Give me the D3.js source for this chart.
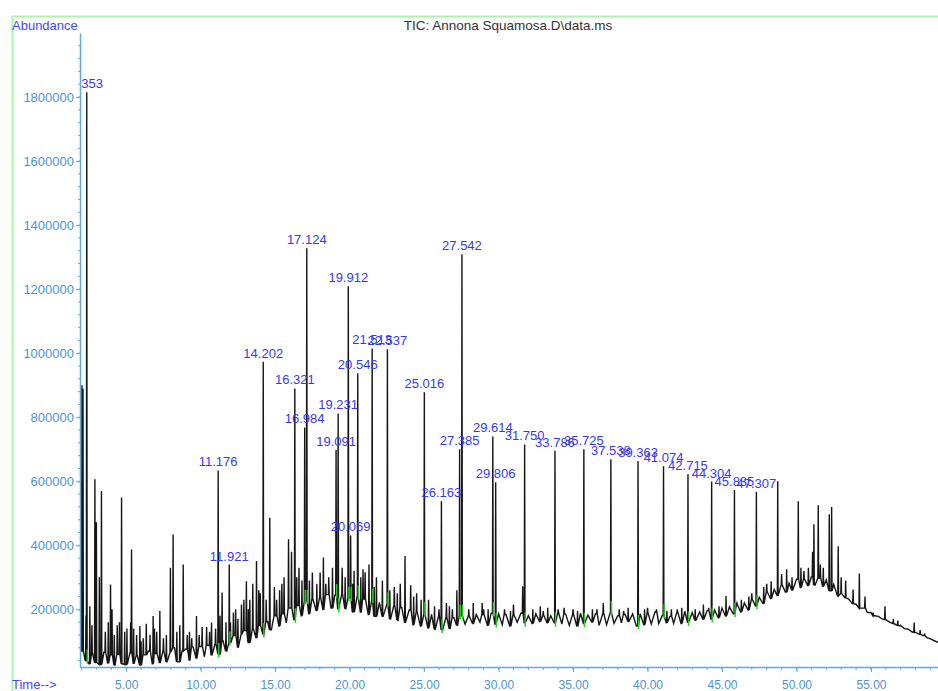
<!DOCTYPE html>
<meta charset="utf-8">
<style>
body { margin: 0; background: #fff; }
svg { display: block; font-family: "Liberation Sans", Arial, sans-serif; }
.axis path, .axis line { stroke: #62a9de; }
.axis text { fill: #4d94d4; }
.peak-label { fill: #3838f4; font-size: 13px; text-anchor: middle; }
.trace { fill: none; stroke: #161616; stroke-width: 1.4px; stroke-linejoin: miter; }
.marker { stroke: #22cc22; stroke-width: 1.5px; }
</style>
<body>
<script src="https://d3js.org/d3.v7.min.js"></script>
<script>

const width = 938;
const height = 691;

// labelled peaks (retention time, abundance, label)
const peakTimes = [2.353, 11.176, 11.921, 14.202, 16.321, 16.984, 17.124, 19.091, 19.231, 19.912,
  20.069, 20.546, 21.513, 22.537, 25.016, 26.163, 27.385, 27.542, 29.614, 29.806, 31.750,
  33.786, 35.725, 37.538, 39.363, 41.074, 42.715, 44.304, 45.835, 47.307];
const peakHeights = [1815000, 634000, 340000, 973000, 890000, 768000, 1328000, 698000, 812000, 1209000,
  431000, 937000, 1015000, 1012000, 878000, 538000, 700000, 1309000, 740000, 597000, 715000,
  695000, 700000, 669000, 663000, 647000, 622000, 599000, 573000, 567000];
const peakLabels = ["2.353", "11.176", "11.921", "14.202", "16.321", "16.984", "17.124", "19.091", "19.231", "19.912",
  "20.069", "20.546", "21.513", "22.537", "25.016", "26.163", "27.385", "27.542", "29.614", "29.806", "31.750",
  "33.786", "35.725", "37.538", "39.363", "41.074", "42.715", "44.304", "45.835", "47.307"];

// unlabelled peaks
const minorTimes = [1.96, 2.03, 2.10, 2.56, 2.90, 3.00, 3.20, 3.34, 3.95, 4.05, 4.40, 4.55, 4.69, 5.05, 5.30, 5.36,
  5.70, 5.92, 6.15, 6.35, 6.60, 6.81, 7.05, 7.26, 7.50, 7.97, 8.15, 8.40, 8.83, 9.10, 9.40, 9.72,
  10.10, 10.40, 10.73, 11.44, 11.70, 12.20, 12.50, 12.74, 13.07, 13.30, 13.50, 13.75, 14.00, 14.64,
  14.95, 15.30, 15.60, 15.90, 16.10, 16.60, 17.50, 17.80, 18.02, 18.24, 18.60, 18.85, 19.50, 20.30,
  20.90, 21.04, 21.30, 21.80, 22.20, 23.00, 23.40, 23.72, 24.10, 24.50, 25.30, 25.70, 26.50, 26.90,
  27.20, 28.30, 28.90, 29.30, 30.40, 31.00, 31.62, 32.30, 32.80, 33.30, 34.40, 35.00, 36.30, 37.03,
  38.10, 38.70, 40.00, 40.60, 41.60, 42.30, 43.20, 43.75, 44.80, 45.27, 46.30, 46.80, 47.80, 48.30,
  48.74, 49.34, 49.70, 50.12, 50.50, 50.80, 51.08, 51.17, 51.46, 51.80, 52.20, 52.36, 52.80, 53.30,
  53.80, 54.22, 54.60, 55.15, 55.94, 56.50, 57.00, 57.90, 58.60,
  2.30, 2.70, 3.60, 3.80, 4.20, 4.90, 5.50, 6.00, 6.90, 7.70, 8.60, 9.25, 9.90, 10.60, 11.00, 11.30,
  12.00, 12.35, 12.90, 13.20, 13.90, 14.40, 15.10, 15.45, 16.45, 16.80, 17.30, 18.40, 19.70, 20.20,
  20.75, 21.65, 22.70, 23.20, 24.30, 24.80, 26.00, 26.70, 28.00, 29.00, 30.80, 33.00, 34.00, 35.30,
  36.60, 38.40, 39.80, 41.30, 42.00, 44.10, 46.00, 47.00, 48.00, 49.00, 50.30, 51.60, 53.00, 56.80, 58.30];
const minorHeights = [600000, 900000, 890000, 210000, 606000, 472000, 300000, 570000, 278000, 200000, 150000, 160000, 549000, 140000, 160000, 387000,
  120000, 148000, 110000, 155000, 120000, 179000, 130000, 195000, 110000, 330000, 434000, 130000, 340000, 120000, 110000, 179000,
  145000, 145000, 159000, 253000, 160000, 190000, 170000, 215000, 288000, 230000, 280000, 351000, 250000, 486000,
  270000, 260000, 300000, 419000, 380000, 330000, 315000, 280000, 315000, 362000, 300000, 330000, 330000, 320000,
  325000, 316000, 340000, 300000, 290000, 270000, 280000, 367000, 275000, 250000, 230000, 210000, 220000, 200000,
  260000, 220000, 220000, 200000, 200000, 215000, 272000, 200000, 210000, 205000, 205000, 200000, 200000, 220000,
  200000, 205000, 205000, 200000, 200000, 205000, 200000, 215000, 210000, 242000, 230000, 240000, 270000, 288000,
  600000, 325000, 300000, 538000, 320000, 330000, 380000, 466000, 525000, 330000, 497000, 520000, 397000, 290000,
  262000, 312000, 240000, 190000, 210000, 170000, 150000, 159000, 125000,
  180000, 150000, 130000, 160000, 120000, 130000, 140000, 100000, 140000, 120000, 150000, 130000, 120000, 130000, 140000, 180000,
  160000, 200000, 230000, 200000, 260000, 230000, 230000, 280000, 300000, 290000, 290000, 280000, 300000, 280000,
  300000, 270000, 260000, 250000, 240000, 230000, 200000, 210000, 200000, 200000, 195000, 195000, 200000, 195000,
  200000, 195000, 200000, 195000, 200000, 205000, 220000, 250000, 280000, 310000, 330000, 340000, 300000, 165000, 135000];

// baseline read every 0.25 min from 2.00 min (thousands)
const baseStart = 2.0;
const baseStep = 0.25;
const baseline = [
  70, 40, 30, 62,   34, 28, 66, 32,   58, 26, 60, 30,   28, 64, 30, 56,
  26, 58, 70, 30,   62, 32, 72, 36,   66, 80, 36, 70,   76, 40, 82, 46,
  84, 52, 88, 56,   94, 60, 102, 70,  96, 118, 80, 122, 134, 96, 142, 110,
  150, 122, 162, 136, 180, 148, 186, 158, 204, 168, 212, 180, 226, 186, 234, 196,
  240, 198, 246, 204, 244, 200, 248, 202, 236, 192, 240, 190, 232, 184, 230, 178,
  222, 178, 218, 170, 214, 166, 206, 158, 198, 152, 194, 148, 188, 142, 184, 138,
  180, 136, 176, 140, 174, 150, 180, 154, 180, 156, 184, 160, 184, 150, 188, 154,
  186, 152, 184, 148, 184, 160, 188, 156, 180, 156, 186, 162, 182, 158, 180, 156,
  190, 154, 186, 150, 186, 148, 188, 154, 182, 160, 186, 150, 188, 152, 192, 156,
  180, 158, 184, 162, 186, 148, 186, 152, 190, 154, 192, 156, 182, 158, 178, 156,
  192, 156, 194, 158, 190, 166, 192, 168, 196, 170, 198, 174, 204, 178, 208, 186,
  216, 192, 220, 198, 232, 210, 238, 218, 256, 234, 262, 242, 278, 254, 282, 260,
  294, 268, 296, 274, 302, 276, 298, 272, 292, 258, 278, 242, 250, 236, 232, 218,
  216, 204, 204, 190, 190, 180, 178, 170, 168, 160, 156, 150, 148, 140, 138, 130,
  128, 122, 118, 112, 108, 102, 97
];

const xMajor = [5, 10, 15, 20, 25, 30, 35, 40, 45, 50, 55];
const yMajor = [200000, 400000, 600000, 800000, 1000000, 1200000, 1400000, 1600000, 1800000];

const svg = d3.select("body").append("svg")
    .attr("width", width)
    .attr("height", height);

const x = d3.scaleLinear().domain([1.9, 59.5]).range([80, 938]);
const y = d3.scaleLinear().domain([20000, 2000000]).range([667, 33]);

// frame
svg.append("path")
    .attr("d", "M12.5,691V16.5H938")
    .attr("fill", "none")
    .attr("stroke", "#aef2ae")
    .attr("stroke-width", 2);

svg.append("text")
    .attr("x", 508).attr("y", 30)
    .attr("text-anchor", "middle")
    .attr("fill", "#333")
    .style("font-size", "13.5px")
    .text("TIC: Annona Squamosa.D\\data.ms");

svg.append("text")
    .attr("x", 12).attr("y", 30)
    .attr("fill", "#4646ff")
    .style("font-size", "13px")
    .text("Abundance");

svg.append("text")
    .attr("x", 12).attr("y", 689)
    .attr("fill", "#4646ff")
    .style("font-size", "13px")
    .text("Time-->");

// trace points
const baseTimes = baseline.map((v, i) => baseStart + i * baseStep);
function footAt(t) {
  const i = Math.max(0, Math.min(baseline.length - 1, Math.round((t - baseStart) / baseStep)));
  return baseline[i] * 1000;
}

const allPeaks = peakTimes.map((t, i) => [t, peakHeights[i]])
    .concat(minorTimes.map((t, i) => [t, minorHeights[i]]))
    .sort((a, b) => a[0] - b[0]);

let pts = baseTimes.map((t, i) => [t, baseline[i] * 1000])
    .filter(p => !allPeaks.some(q => Math.abs(q[0] - p[0]) < 0.04));
pts.unshift([1.9, 60000]);
allPeaks.forEach(p => {
  const f = footAt(p[0]);
  pts.push([p[0] - 0.025, f], [p[0], p[1]], [p[0] + 0.025, f]);
});
pts.sort((a, b) => a[0] - b[0]);

svg.append("clipPath").attr("id", "plot")
  .append("rect").attr("x", 80.5).attr("y", 0).attr("width", 860).attr("height", 668);

const plot = svg.append("g").attr("clip-path", "url(#plot)");

plot.append("path")
    .datum(pts)
    .attr("class", "trace")
    .attr("d", d3.line().x(d => x(d[0])).y(d => y(d[1])));

// integration markers
plot.selectAll(".marker")
    .data(peakTimes)
  .enter().append("line")
    .attr("class", "marker")
    .attr("x1", t => x(t + 0.04)).attr("x2", t => x(t + 0.04))
    .attr("y1", t => y(footAt(t) - 10000))
    .attr("y2", t => y(footAt(t) + 35000));

plot.selectAll(".peak-label")
    .data(peakTimes)
  .enter().append("text")
    .attr("class", "peak-label")
    .attr("x", t => x(t))
    .attr("y", (t, i) => y(peakHeights[i]) - 4)
    .text((t, i) => peakLabels[i]);

// axes
const xAxis = svg.append("g")
    .attr("class", "axis")
    .attr("transform", "translate(0,667)")
    .call(d3.axisBottom(x).tickValues(xMajor).tickFormat(d3.format(".2f")).tickSize(5).tickPadding(8).tickSizeOuter(0));
xAxis.selectAll("text").style("font-size", "12px");
xAxis.selectAll(".minor")
    .data(d3.range(2, 60))
  .enter().append("line")
    .attr("x1", d => x(d)).attr("x2", d => x(d))
    .attr("y1", 0).attr("y2", 3)
    .attr("stroke", "#62a9de");

const yAxis = svg.append("g")
    .attr("class", "axis")
    .attr("transform", "translate(80,0)")
    .call(d3.axisLeft(y).tickValues(yMajor).tickFormat(d3.format("d")).tickSize(4).tickPadding(2).tickSizeOuter(0));
yAxis.selectAll("text").style("font-size", "13px");
yAxis.selectAll(".minor")
    .data(d3.range(40000, 2000000, 40000))
  .enter().append("line")
    .attr("x1", -2).attr("x2", 0)
    .attr("y1", d => y(d)).attr("y2", d => y(d))
    .attr("stroke", "#62a9de");

svg.selectAll(".axis path").attr("stroke-width", 1.5);

</script>
</body>
